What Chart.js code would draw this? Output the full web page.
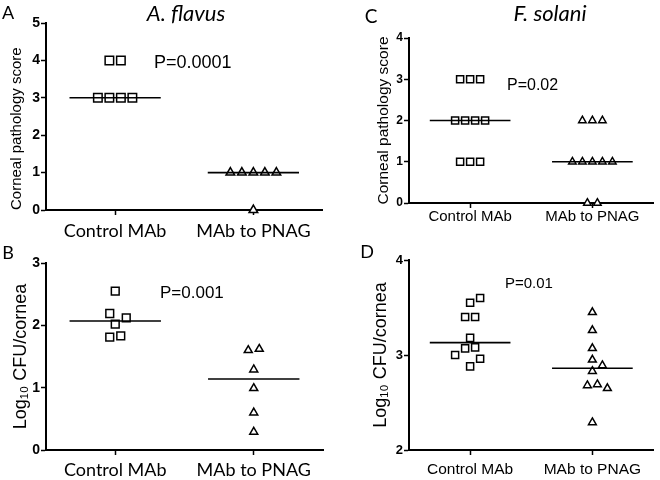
<!DOCTYPE html>
<html>
<head>
<meta charset="utf-8">
<script src="https://cdn.jsdelivr.net/npm/chart.js@4.4.1/dist/chart.umd.min.js"></script>
<style>
  body { margin: 0; background: #fff; }
  #wrap { position: relative; width: 660px; height: 480px; overflow: hidden; }
  .panel { position: absolute; width: 330px; height: 240px; }
  .lbl { position: absolute; color: #000; white-space: nowrap; line-height: 1; transform: translate(-50%, -50%); }
  .pv { position: absolute; color: #000; white-space: nowrap; line-height: 1; font-family: "Liberation Sans", Arial, sans-serif; transform: translate(0, -50%); }
  .cal { font-family: Lato, "Open Sans", sans-serif; }
</style>
</head>
<body>
<div id="wrap">
  <canvas class="panel" id="chartA" width="330" height="240" style="left:0;top:0"></canvas>
  <canvas class="panel" id="chartB" width="330" height="240" style="left:0;top:240px"></canvas>
  <canvas class="panel" id="chartC" width="330" height="240" style="left:330px;top:0"></canvas>
  <canvas class="panel" id="chartD" width="330" height="240" style="left:330px;top:240px"></canvas>

  <div class="lbl cal" style="left:8px;top:12px;font-size:18px">A</div>
  <div class="lbl cal" style="left:8px;top:252px;font-size:18px">B</div>
  <div class="lbl cal" style="left:371px;top:15px;font-size:19px">C</div>
  <div class="lbl cal" style="left:367px;top:251px;font-size:18px">D</div>
  <div class="lbl cal" style="left:186px;top:13px;font-size:22px;font-style:italic">A. flavus</div>
  <div class="lbl cal" style="left:550px;top:13px;font-size:22px;font-style:italic">F. solani</div>

  <div class="pv" style="left:154px;top:62px;font-size:18px">P=0.0001</div>
  <div class="pv" style="left:160px;top:292px;font-size:17px">P=0.001</div>
  <div class="pv" style="left:507px;top:85px;font-size:16px">P=0.02</div>
  <div class="pv" style="left:505px;top:282px;font-size:15px">P=0.01</div>
</div>

<script>
// groups on the x axis
const categories = ['Control MAb', 'MAb to PNAG'];

// A. flavus - corneal pathology score
const aControl = [4, 4, 3, 3, 3, 3];
const aPnag = [1, 1, 1, 1, 1, 0];

// A. flavus - log10 CFU/cornea
const bControl = [2.55, 2.12, 2.02, 2.19, 1.81, 1.83];
const bPnag = [1.60, 1.62, 1.29, 0.99, 0.60, 0.29];

// F. solani - corneal pathology score
const cControl = [3, 3, 3, 2, 2, 2, 2, 1, 1, 1];
const cPnag = [2, 2, 2, 1, 1, 1, 1, 1, 0, 0];

// F. solani - log10 CFU/cornea
const dControl = [3.60, 3.55, 3.40, 3.40, 3.18, 3.08, 3.07, 3.00, 2.96, 2.88];
const dPnag = [3.45, 3.26, 3.07, 2.95, 2.89, 2.83, 2.69, 2.68, 2.65, 2.29];

const HALF_LINE = 0.33;   // half length of the median bar, in x units

function median(arr) {
    const s = arr.slice().sort((a, b) => a - b);
    const m = Math.floor(s.length / 2);
    return s.length % 2 ? s[m] : (s[m - 1] + s[m]) / 2;
}

// pixel offsets so markers don't overlap (near-ties centred in a row, rest swarmed)
function spread(values, yScale, spacing) {
    const off = values.map(() => null);
    const py = values.map(v => yScale.getPixelForValue(v));
    const placed = [];
    const order = values.map((v, i) => i).sort((a, b) => values[a] - values[b]);
    // rows of points sitting almost on the same height
    const rows = [];
    order.forEach(i => {
        const last = rows[rows.length - 1];
        if (last && Math.abs(py[last[0]] - py[i]) < 2.5) last.push(i);
        else rows.push([i]);
    });
    rows.filter(r => r.length > 1).forEach(r => {
        r.forEach((i, k) => {
            off[i] = (k - (r.length - 1) / 2) * spacing;
            placed.push([off[i], py[i]]);
        });
    });
    order.filter(i => off[i] === null).forEach(i => {
        for (let k = 0; k < 40; k++) {
            const cand = (k % 2 ? 1 : -1) * Math.ceil(k / 2) * spacing / 2;
            if (placed.every(p => Math.hypot(p[0] - cand, p[1] - py[i]) >= spacing - 0.01)) {
                off[i] = cand;
                placed.push([cand, py[i]]);
                break;
            }
        }
    });
    return off;
}

function medianLine(values, center) {
    const m = median(values);
    return {
        type: 'line',
        data: [{ x: center - HALF_LINE, y: m }, { x: center + HALF_LINE, y: m }],
        borderColor: '#000',
        borderWidth: 1.6,
        pointRadius: 0,
        clip: false
    };
}

function points(values, center, style, radius) {
    return {
        data: values.map(v => ({ x: center, y: v })),
        pointStyle: style,
        pointRadius: radius,
        pointBackgroundColor: '#fff',
        pointBorderColor: '#000',
        pointBorderWidth: 1.5,
        clip: false
    };
}

function makePanel(id, control, pnag, cfg) {
    const chart = new Chart(document.getElementById(id), {
        type: 'scatter',
        data: {
            datasets: [
                medianLine(control, 0.5),
                medianLine(pnag, 1.5),
                points(control, 0.5, 'rect', cfg.sq),
                points(pnag, 1.5, 'triangle', cfg.tri)
            ]
        },
        options: {
            responsive: false,
            animation: false,
            layout: { padding: { top: cfg.top, right: cfg.right, left: 0, bottom: 0 } },
            plugins: { legend: { display: false }, tooltip: { enabled: false } },
            scales: {
                x: {
                    type: 'linear', min: 0, max: 2,
                    afterBuildTicks: s => { s.ticks = [{ value: 0.5 }, { value: 1.5 }]; },
                    afterFit: s => { s.height = cfg.xh; s.paddingLeft = 0; s.paddingRight = 0; },
                    ticks: {
                        callback: (v, i) => categories[i],
                        font: cfg.catFont, color: '#000', padding: cfg.catPad,
                        maxRotation: 0, autoSkip: false
                    },
                    grid: { drawOnChartArea: false, tickLength: 5, tickColor: '#000', tickWidth: 1.5 },
                    border: { color: '#000', width: 2 }
                },
                y: {
                    min: cfg.yMin, max: cfg.yMax,
                    afterFit: s => { s.width = cfg.yw; },
                    ticks: {
                        stepSize: 1, color: '#000', padding: 1,
                        font: { family: 'Liberation Sans', weight: 'bold', size: cfg.tickSize }
                    },
                    grid: { drawOnChartArea: false, tickLength: 5, tickColor: '#000', tickWidth: 1.5 },
                    border: { color: '#000', width: 2 },
                    title: {
                        display: true, text: cfg.title, color: '#000', align: cfg.titleAlign,
                        font: { family: 'Liberation Sans', size: cfg.titleSize },
                        padding: { top: cfg.titlePad, bottom: 0 }
                    }
                }
            }
        }
    });

    // jitter markers sideways now that the scales are laid out
    const xs = chart.scales.x, ys = chart.scales.y;
    [[control, 0.5, 2], [pnag, 1.5, 3]].forEach(([vals, c, di]) => {
        const off = spread(vals, ys, cfg.spacing);
        const cx = xs.getPixelForValue(c);
        chart.data.datasets[di].data = vals.map((v, i) => ({ x: xs.getValueForPixel(cx + off[i]), y: v }));
    });
    chart.update('none');
    return chart;
}

const calFont = { family: 'Lato', size: 18 };

makePanel('chartA', aControl, aPnag, {
    yMin: 0, yMax: 5, top: 23, right: 0, yw: 46, xh: 30, tickSize: 14,
    title: 'Corneal pathology score', titleSize: 15, titleAlign: 'start', titlePad: 8,
    catFont: calFont, catPad: 5, sq: 6, tri: 5, spacing: 11.5
});
makePanel('chartB', bControl, bPnag, {
    yMin: 0, yMax: 3, top: 23, right: 0, yw: 46, xh: 30, tickSize: 14,
    title: 'Log\u2081\u2080 CFU/cornea', titleSize: 18, titleAlign: 'center', titlePad: 10,
    catFont: calFont, catPad: 4, sq: 5.5, tri: 4.6, spacing: 11
});
makePanel('chartC', cControl, cPnag, {
    yMin: 0, yMax: 4, top: 38, right: 5, yw: 79, xh: 37, tickSize: 12,
    title: 'Corneal pathology score', titleSize: 15.5, titleAlign: 'center', titlePad: 44,
    catFont: { family: 'Liberation Sans', size: 15 }, catPad: 0, sq: 5, tri: 4.3, spacing: 10
});
makePanel('chartD', dControl, dPnag, {
    yMin: 2, yMax: 4, top: 20, right: 5, yw: 79, xh: 30, tickSize: 13,
    title: 'Log\u2081\u2080 CFU/cornea', titleSize: 18, titleAlign: 'center', titlePad: 40,
    catFont: { family: 'Liberation Sans', size: 15.5 }, catPad: 5, sq: 5, tri: 4.5, spacing: 10
});
</script>
</body>
</html>
